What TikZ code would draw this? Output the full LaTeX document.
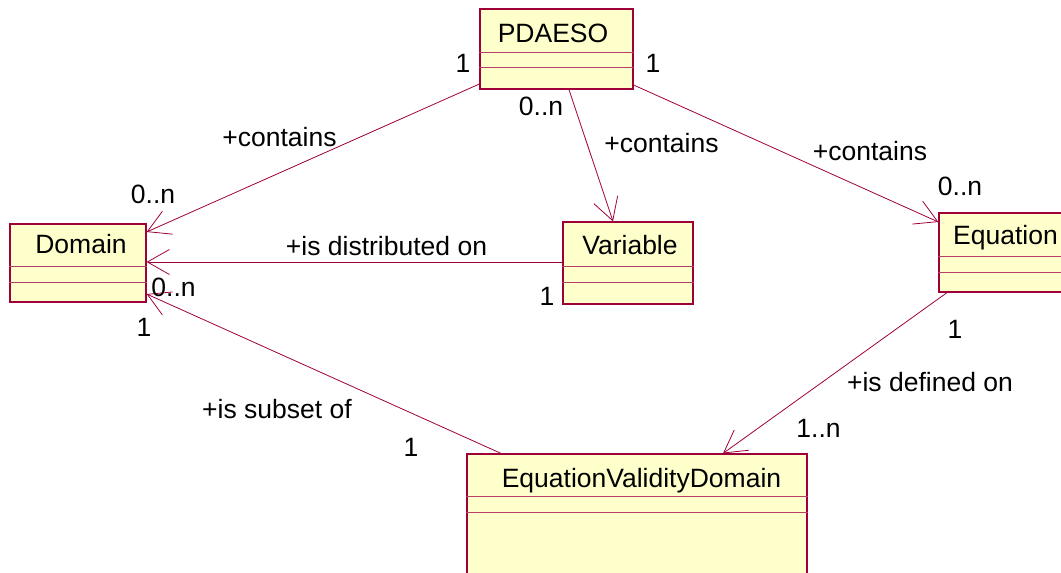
\documentclass[tikz,border=0pt]{standalone}
\usepackage{fontspec}
\setmainfont{Liberation Sans}
\usetikzlibrary{arrows.meta}
\definecolor{umlline}{HTML}{A0003A}
\definecolor{umlsep}{HTML}{B84068}
\definecolor{umlfill}{HTML}{FFFFCC}

\begin{document}
\begin{tikzpicture}[x=1pt,y=-1pt,
  cls/.style={draw=umlline, fill=umlfill, line width=1.2pt, rectangle, inner sep=0pt},
  sep/.style={draw=umlsep, line width=1pt},
  txt/.style={font=\fontsize{26.5}{32}\selectfont, inner sep=0pt, anchor=base},
  assoc/.style={draw=umlline, line width=0.8pt,
    -{Straight Barb[length=22pt,width=25pt,line width=0.8pt]}}]

\useasboundingbox (0,0) rectangle (1061,573);
\clip (0,0) rectangle (1061,573);

% class boxes
\node[cls, minimum width=153pt, minimum height=80pt]  (pdaeso)   at (556.5,49)  {};
\node[cls, minimum width=136pt, minimum height=78pt]  (domain)   at (78,263)    {};
\node[cls, minimum width=130pt, minimum height=82pt]  (variable) at (628,263)   {};
\node[cls, minimum width=134pt, minimum height=79pt]  (equation) at (1006,252.5){};
\node[cls, minimum width=340pt, minimum height=146pt] (evd)      at (637,527)   {};

% compartment separators
\draw[sep] (pdaeso.west |- 0,52)   -- (pdaeso.east |- 0,52);
\draw[sep] (pdaeso.west |- 0,67)   -- (pdaeso.east |- 0,67);
\draw[sep] (domain.west |- 0,266)  -- (domain.east |- 0,266);
\draw[sep] (domain.west |- 0,282)  -- (domain.east |- 0,282);
\draw[sep] (variable.west |- 0,266) -- (variable.east |- 0,266);
\draw[sep] (variable.west |- 0,282) -- (variable.east |- 0,282);
\draw[sep] (equation.west |- 0,256) -- (equation.east |- 0,256);
\draw[sep] (equation.west |- 0,272) -- (equation.east |- 0,272);
\draw[sep] (evd.west |- 0,496) -- (evd.east |- 0,496);
\draw[sep] (evd.west |- 0,512) -- (evd.east |- 0,512);

% class names
\node[txt] (tpdaeso)   at (553,42)    {PDAESO};
\node[txt] (tdomain)   at (81,253)    {Domain};
\node[txt] (tvariable) at (630,254)   {Variable};
\node[txt] (tequation) at (1005.5,244) {Equation};
\node[txt] (tevd)      at (641.5,487) {EquationValidityDomain};

% associations
\draw[assoc] (pdaeso.west |- 0,84) -- (domain.east |- 0,232);
\draw[assoc] (pdaeso.south -| 569,0) -- (variable.north -| 613,0);
\draw[assoc] (pdaeso.east |- 0,85) -- (equation.west |- 0,222);
\draw[assoc] (variable.west |- 0,262) -- (domain.east |- 0,262);
\draw[assoc] (evd.north -| 501,0) -- (domain.east |- 0,294);
\draw[assoc] (equation.south -| 947,0) -- (evd.north -| 723,0);

% role names and multiplicities
\node[txt] (m1)  at (463,72)    {1};
\node[txt] (m2)  at (653,72)    {1};
\node[txt] (m3)  at (541,115)   {0..n};
\node[txt] (r1)  at (279.5,146) {+contains};
\node[txt] (r2)  at (661.5,152) {+contains};
\node[txt] (r3)  at (870,160)   {+contains};
\node[txt] (m4)  at (153,203)   {0..n};
\node[txt] (m5)  at (960,195)   {0..n};
\node[txt] (r4)  at (386.5,255) {+is distributed on};
\node[txt] (m6)  at (173.5,296) {0..n};
\node[txt] (m7)  at (547,305)   {1};
\node[txt] (m8)  at (144,336)   {1};
\node[txt] (m9)  at (955,338)   {1};
\node[txt] (r5)  at (930,391)   {+is defined on};
\node[txt] (r6)  at (277,418)   {+is subset of};
\node[txt] (m10) at (818.5,437) {1..n};
\node[txt] (m11) at (411,456)   {1};

\end{tikzpicture}
\end{document}
